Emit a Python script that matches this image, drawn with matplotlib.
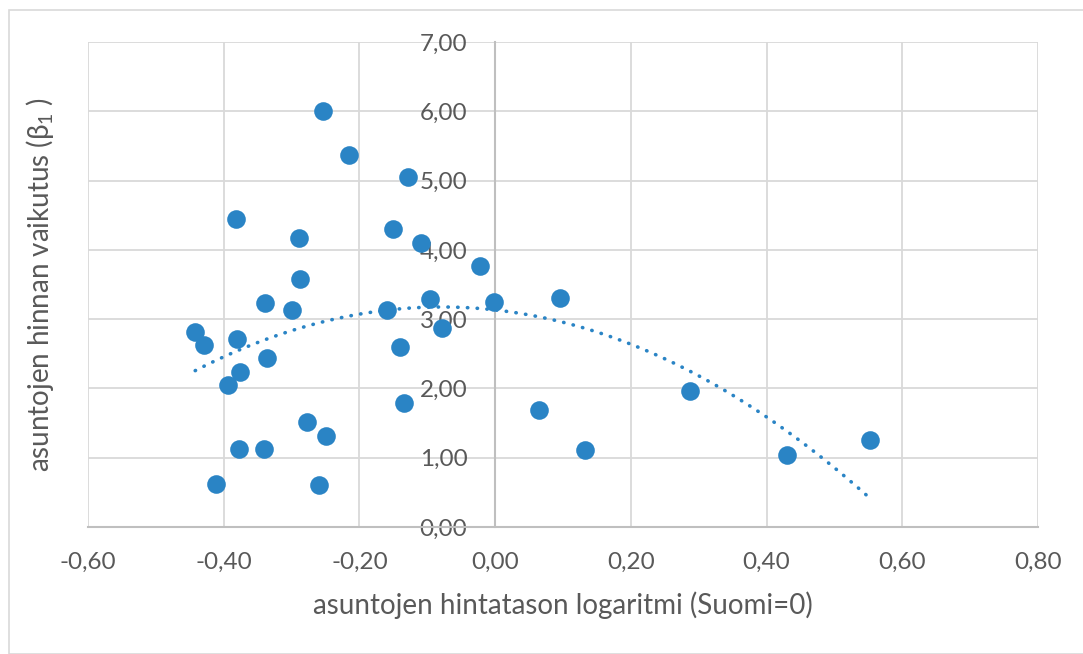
import numpy as np
import matplotlib
matplotlib.use("Agg")
from matplotlib import pyplot as plt
from matplotlib.patches import Rectangle
from matplotlib.ticker import FuncFormatter, MultipleLocator

# Log price level (Suomi=0) and effect of housing price (beta_1)
x_log_price = [-0.442, -0.429, -0.382, -0.380, -0.376, -0.393, -0.377, -0.411,
               -0.339, -0.336, -0.340, -0.299, -0.287, -0.289, -0.254, -0.277,
               -0.250, -0.259, -0.215, -0.128, -0.150, -0.110, -0.160, -0.140,
               -0.134, -0.096, -0.079, -0.022, -0.002, 0.064, 0.096, 0.133,
               0.287, 0.430, 0.553]
y_beta1 = [2.81, 2.63, 4.44, 2.71, 2.24, 2.05, 1.13, 0.62,
           3.23, 2.44, 1.13, 3.13, 3.58, 4.17, 6.00, 1.52,
           1.31, 0.61, 5.37, 5.05, 4.30, 4.10, 3.13, 2.60,
           1.79, 3.29, 2.87, 3.77, 3.25, 1.69, 3.30, 1.11,
           1.96, 1.04, 1.26]

x_label = "asuntojen hintatason logaritmi (Suomi=0)"
y_label = "asuntojen hinnan vaikutus (β$_1$ )"

blue = "#2A84C5"
text_gray = "#595959"

plt.rcParams["font.family"] = ["Lato", "DejaVu Sans"]
plt.rcParams["mathtext.default"] = "regular"

fig = plt.figure(figsize=(10.83, 6.54), dpi=100)
W, H = 1083, 654

# chart border
fig.patches.append(Rectangle((9 / W, 0), 1.5, (H - 10) / H, transform=fig.transFigure,
                             fill=False, edgecolor="#d9d9d9", linewidth=1.2))

ax = fig.add_axes([88 / W, (H - 527) / H, (1038 - 88) / W, (527 - 42) / H])

ax.scatter(x_log_price, y_beta1, s=180, color=blue, zorder=3, linewidths=0)

# 2nd order polynomial trendline
coef = np.polyfit(x_log_price, y_beta1, 2)
xt = np.linspace(min(x_log_price), max(x_log_price), 200)
ax.plot(xt, np.polyval(coef, xt), color=blue, linewidth=2.6,
        linestyle=(0, (0.1, 2.6)), dash_capstyle="round", zorder=2)

ax.set_xlim(-0.6, 0.8)
ax.set_ylim(0, 7)
ax.xaxis.set_major_locator(MultipleLocator(0.2))
ax.yaxis.set_major_locator(MultipleLocator(1))
fmt = FuncFormatter(lambda v, p: f"{v:.2f}".replace(".", ",").replace("-0,00", "0,00"))
ax.xaxis.set_major_formatter(fmt)
ax.yaxis.set_major_formatter(fmt)

ax.grid(True, color="#d9d9d9", linewidth=1.3, zorder=0)
ax.set_axisbelow(True)

for side in ["top", "right"]:
    ax.spines[side].set_visible(False)
ax.spines["left"].set_position(("data", 0))
ax.spines["left"].set_color("#bfbfbf")
ax.spines["left"].set_linewidth(1.5)
ax.spines["bottom"].set_color("#bfbfbf")
ax.spines["bottom"].set_linewidth(1.5)

ax.tick_params(axis="both", length=0, labelsize=17.5, labelcolor=text_gray)
ax.tick_params(axis="y", pad=20)
ax.tick_params(axis="x", pad=18)

fig.text(563 / W, 1 - 605 / H, x_label, ha="center", va="center",
         fontsize=20, color=text_gray)
fig.text(40 / W, 1 - 284 / H, y_label, ha="center", va="center",
         rotation=90, fontsize=20, color=text_gray)

fig.savefig("out.png", dpi=100)
